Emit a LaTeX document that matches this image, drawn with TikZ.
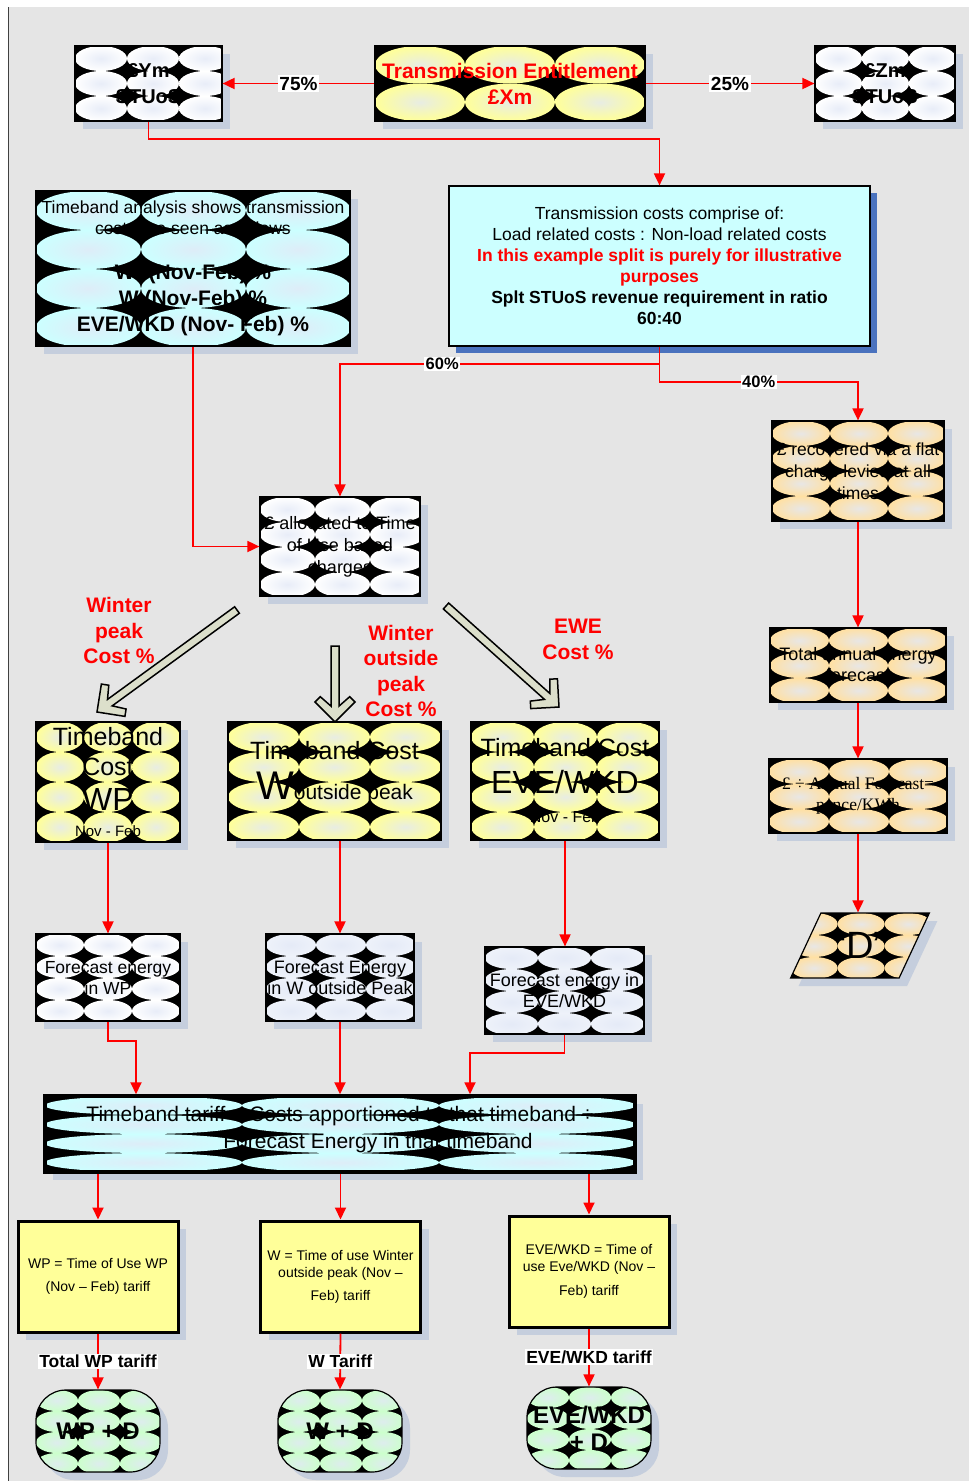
\documentclass[tikz,border=0pt]{standalone}
\usepackage{fontspec}
\setmainfont{Liberation Sans}
\newfontfamily\seriffam{Liberation Serif}
\usetikzlibrary{arrows.meta,calc,shadows,shapes.geometric}
\definecolor{bgc}{HTML}{E5E5E5}
\definecolor{shc}{HTML}{C5CEDD}
\definecolor{shdark}{HTML}{4A72BE}
\definecolor{yel}{HTML}{FFFF99}
\definecolor{cya}{HTML}{CCFFFF}
\definecolor{pea}{HTML}{FFE0A3}
\definecolor{grn}{HTML}{CCFFCC}
\definecolor{inb}{HTML}{E2E8F6}
\definecolor{wht}{HTML}{FFFFFF}
\definecolor{pale}{HTML}{EEF2FA}
\definecolor{arrfill}{HTML}{DCDFCB}
\definecolor{redc}{HTML}{FF0000}
\newcommand\fs[2]{\fontsize{#1}{#2}\selectfont}
\newcommand\blkarrow[2]{%
  \coordinate (ba-q) at ($(#2)!15.9pt!(#1)$);
  \coordinate (ba-h) at ($(#2)!20pt!(#1)$);
  \coordinate (ba-i) at ($(#2)!25.3pt!(#1)$);
  \filldraw[blockarr] ($(#1)!4pt!90:(#2)$) -- ($(ba-q)!4pt!-90:(#1)$) -- ($(ba-i)!14.7pt!-90:(#1)$) -- ($(ba-h)!20pt!-90:(#1)$) -- (#2) -- ($(ba-h)!20pt!90:(#1)$) -- ($(ba-i)!14.7pt!90:(#1)$) -- ($(ba-q)!4pt!90:(#1)$) -- ($(#1)!4pt!-90:(#2)$) -- cycle;}
\tikzset{
  shad/.style={drop shadow={shadow xshift=8pt, shadow yshift=-8pt, fill=shc, opacity=1}},
  box/.style={draw=black, line width=1.2pt, inner sep=0pt, align=center, text=black, shad},
  pat/.style n args={5}{path picture={
    \fill[black] (path picture bounding box.south west) rectangle (path picture bounding box.north east);
    \foreach \i in {1,...,#4}{\foreach \j in {1,...,#5}{
      \shade[inner color=inb!80!#1, outer color=#1] ([shift={({(\i-0.5)*#2},{(\j-0.5)*#3})}]path picture bounding box.north west) ellipse [x radius={#2*0.5pt}, y radius={#3*0.5pt}];
    }}}},
  conn/.style={draw=redc, line width=1.8pt, -{Triangle[length=12pt,width=11pt]}},
  pct/.style={fill=white, inner sep=1.5pt, font=\fs{19}{22}\bfseries, text=black},
  pcts/.style={fill=white, inner sep=1.5pt, font=\fs{16.5}{19}\bfseries, text=black},
  tlab/.style={fill=white, inner sep=1.5pt, font=\fs{17.5}{20}\bfseries, text=black},
  redlab/.style={align=center, text=redc, font=\fs{21}{25.5}\bfseries},
  blockarr/.style={fill=arrfill, draw=black, line width=1.5pt, line join=miter},
  ybox/.style={draw=black, line width=3pt, fill=yel, inner sep=0pt, align=center, shad, minimum width=160pt, minimum height=111pt},
  term/.style={box, rounded corners=30pt, minimum width=124pt, minimum height=82pt, pat={grn}{42}{21}{3}{4}, font=\fs{24}{27}\bfseries}
}
\begin{document}
\begin{tikzpicture}[x=1pt,y=-1pt]
\useasboundingbox (0,0) rectangle (969,1481);
\fill[white] (0,0) rectangle (969,1481);
\fill[bgc] (8,7) rectangle (969,1481);
\draw[line width=1pt, black!75] (8,7) -- (8,1481);

% top row
\node[box, pat={wht}{52}{25}{3}{3}, minimum width=147pt, minimum height=75pt, font=\fs{20}{26}\bfseries] (ym) at (148.5,83.5) {£Ym\\STUoS};
\node[box, pat={yel}{90}{37.5}{3}{2}, minimum width=270pt, minimum height=75pt, font=\fs{21}{26}\bfseries, text=redc] (te) at (510,83.5) {Transmission Entitlement\\£Xm};
\node[box, pat={wht}{47}{25}{3}{3}, minimum width=140pt, minimum height=75pt, font=\fs{20}{26}\bfseries] (zm) at (885,83.5) {£Zm\\STUoS};

% second row
\node[box, pat={cya}{105}{39}{3}{4}, minimum width=314pt, minimum height=155pt, font=\fs{17.5}{21}] (tba) at (193,268.5)
 {Timeband analysis shows transmission\\costs are seen as follows\\[24pt]\fs{21}{26}\bfseries WP(Nov-Feb) \%\\[5pt]\fs{21}{26}\bfseries W (Nov-Feb) \%\\[5pt]\fs{21}{26}\bfseries EVE/WKD (Nov- Feb) \%};
\node[draw=black, line width=1.2pt, fill=cya, inner sep=0pt, align=center, minimum width=421pt, minimum height=160pt, font=\fs{17.5}{21},
  drop shadow={shadow xshift=7pt, shadow yshift=-7pt, fill=shdark, opacity=1}] (tcc) at (659.5,266)
 {Transmission costs comprise of:\\Load related costs : Non-load related costs\\\textcolor{redc}{\bfseries In this example split is purely for illustrative}\\\textcolor{redc}{\bfseries purposes}\\\textbf{Splt STUoS revenue requirement in ratio}\\\textbf{60:40}};

\node[box, pat={wht}{55}{25}{3}{4}, minimum width=160pt, minimum height=99pt, font=\fs{18}{22}] (alloc) at (340,546.5) {£ allocated to Time\\of Use based\\charges};

% right column
\node[box, pat={pea}{58}{25}{3}{4}, minimum width=172pt, minimum height=100pt, font=\fs{17.5}{22}] (flat) at (858,471) {£ recovered via a flat\\charge levied at all\\times};
\node[box, pat={pea}{59}{25}{3}{3}, minimum width=176pt, minimum height=74pt, font=\fs{18}{21}] (tae) at (858,665) {Total annual energy\\forecast};
\node[box, pat={pea}{60}{25}{3}{3}, minimum width=178pt, minimum height=74pt, font=\seriffam\fs{17.5}{21}] (afc) at (858,796) {£ ÷ Annual Forecast=\\pence/KWh};
\node[box, trapezium, trapezium left angle=52, trapezium right angle=128, trapezium stretches=true, minimum width=140pt, minimum height=65pt, pat={pea}{47}{22}{3}{3}, font=\fs{38}{40}] (dd) at (860,945.5) {“D”};

% block arrows
\coordinate (ba1s) at (237,610); \coordinate (ba1e) at (97,712);
\coordinate (ba2s) at (335,646); \coordinate (ba2e) at (335,722);
\coordinate (ba3s) at (446,606); \coordinate (ba3e) at (559,707);
\blkarrow{ba1s}{ba1e}
\blkarrow{ba2s}{ba2e}
\blkarrow{ba3s}{ba3e}

\node[redlab] (lab1) at (119,630.5) {Winter\\peak\\Cost \%};
\node[redlab] (lab2) at (401,671) {Winter\\outside\\peak\\Cost \%};
\node[redlab] (lab3) at (578,639.5) {EWE\\Cost \%};

% timeband cost boxes
\node[box, pat={yel}{48}{30}{3}{4}, minimum width=144pt, minimum height=120pt, font=\fs{25}{30}] (tcwp) at (108,782)
 {Timeband\\Cost\\[5pt]\fs{32}{32}WP\\[-4pt]\fs{15}{18}Nov - Feb};
\node[box, pat={yel}{71}{30}{3}{4}, minimum width=213pt, minimum height=118pt, font=\fs{25}{40}] (tcw) at (334.5,781)
 {Timeband Cost\\{\fs{40}{40}W}{\fs{21}{22}outside peak}\\[-18pt]\mbox{}};
\node[box, pat={yel}{63}{30}{3}{4}, minimum width=188pt, minimum height=118pt, font=\fs{25}{37}] (tce) at (565,781)
 {Timeband Cost\\\fs{32}{32}EVE/WKD\\[-8pt]\fs{16}{16}Nov - Feb};

% forecast boxes
\node[box, pat={wht}{48}{22}{3}{4}, minimum width=144pt, minimum height=87pt, font=\fs{17.5}{21}] (few) at (108,977.5) {Forecast energy\\in WP};
\node[box, pat={pale}{50}{22}{3}{4}, minimum width=148pt, minimum height=87pt, font=\fs{18}{21}] (feo) at (340,977.5) {Forecast Energy\\in W outside Peak};
\node[box, pat={pale}{53}{22}{3}{4}, minimum width=159pt, minimum height=87pt, font=\fs{18}{21}] (fee) at (564.5,990.5) {Forecast energy in\\EVE/WKD};

% tariff
\node[box, line width=3.5pt, pat={cya}{197}{19}{3}{4}, minimum width=590pt, minimum height=76pt, font=\fs{21}{27}] (tar) at (340,1134)
 {Timeband tariff = Costs apportioned to that timeband ÷\\\hspace*{76pt}Forecast Energy in that timeband\\[-13pt]\mbox{}};

% bottom boxes
\node[ybox, font=\fs{14}{23}] (bwp) at (98,1276.5) {WP = Time of Use WP\\(Nov – Feb) tariff};
\node[ybox, font=\fs{14}{17}] (bw) at (340.5,1276.5) {W = Time of use Winter\\outside peak (Nov –\\[6pt]Feb) tariff};
\node[ybox, font=\fs{14}{16.5}] (be) at (589,1271.5) {EVE/WKD = Time of\\use Eve/WKD (Nov –\\[7.5pt]Feb) tariff};

\node[term] (twp) at (98,1431) {WP + D};
\node[term] (tw) at (340,1431) {W + D};
\node[term] (tee) at (589,1428) {EVE/WKD\\+ D};

% connectors
\draw[conn] (te.west) -- node[pct]{75\%} (ym.east);
\draw[conn] (te.east) -- node[pct]{25\%} (zm.west);
\coordinate (c1) at (148.5,139);
\draw[conn] (ym.south) -- (c1) -| (tcc.north);
\coordinate (j1) at (659.5,364);
\coordinate (j2) at (659.5,382);
\draw[conn] (tcc.south) -- (j1) -| node[pcts,pos=0.34]{60\%} (alloc.north);
\draw[conn] (j1) -- (j2) -| node[pcts,pos=0.25]{40\%} (flat.north);
\draw[conn] (tba.south) |- (alloc.west);
\draw[conn] (flat.south) -- (tae.north);
\draw[conn] (tae.south) -- (afc.north);
\draw[conn] (afc.south) -- (afc.south |- dd.north);
\draw[conn] (tcwp.south) -- (few.north);
\draw[conn] (feo.north |- tcw.south) -- (feo.north);
\draw[conn] (tce.south) -- (tce.south |- fee.north);
\draw[conn] (few.south) -- ++(0,19) -| ([xshift=-204pt]tar.north);
\draw[conn] (feo.south) -- (feo.south |- tar.north);
\draw[conn] (fee.south) -- ++(0,18) -| ([xshift=130pt]tar.north);
\draw[conn] (bwp.north |- tar.south) -- (bwp.north);
\draw[conn] (bw.north |- tar.south) -- (bw.north);
\draw[conn] (be.north |- tar.south) -- (be.north);
\draw[conn] (bwp.south) -- node[tlab]{Total WP tariff} (twp.north);
\draw[conn] (bw.south) -- node[tlab]{W Tariff} (tw.north);
\draw[conn] (be.south) -- node[tlab]{EVE/WKD tariff} (tee.north);
\end{tikzpicture}
\end{document}
